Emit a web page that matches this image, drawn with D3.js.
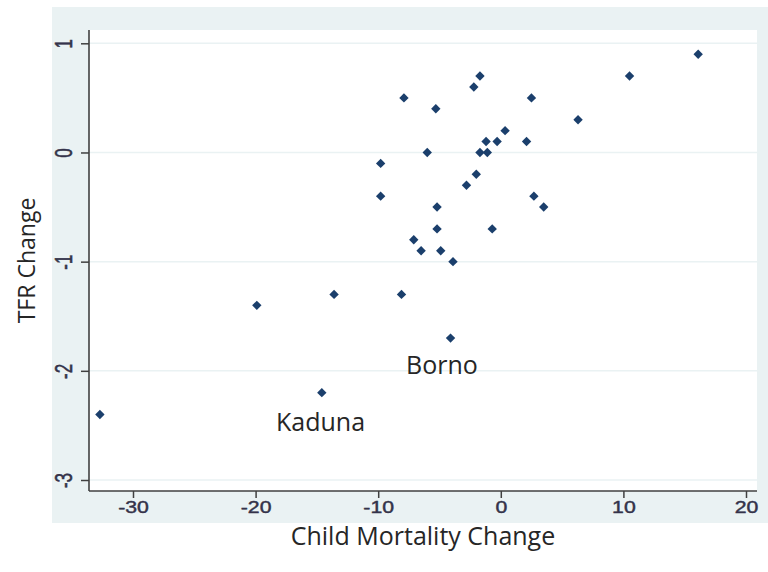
<!DOCTYPE html>
<html>
<head>
<meta charset="utf-8">
<script src="https://cdn.jsdelivr.net/npm/d3@7"></script>
<style>
  html, body { margin: 0; padding: 0; background: #fff; }
  svg { display: block; }
  .tick-label { font-family: "Liberation Sans", Arial, sans-serif; font-size: 16px; fill: #34334a; }
  .axis-title { font-family: "Open Sans", sans-serif; fill: #262626; }
  .point-label { font-family: "Open Sans", sans-serif; font-size: 25px; fill: #262626; }
</style>
</head>
<body>
<div id="chart"></div>
<script>
// Child mortality change (x) and TFR change (y), one entry per state
const childMortality = [
  16.1, 10.5, -1.7, -2.2, -7.9, -5.3, 2.5, 6.3, 0.35, -1.2, -0.3, 2.1,
  -1.7, -1.1, -6.0, -9.8, -2.0, -2.8, -9.8, 2.7, 3.5, -5.2, -5.2, -0.7,
  -7.1, -6.5, -4.9, -3.9, -19.9, -13.6, -8.1, -4.1, -14.6, -32.7
];
const tfrChange = [
  0.9, 0.7, 0.7, 0.6, 0.5, 0.4, 0.5, 0.3, 0.2, 0.1, 0.1, 0.1,
  0.0, 0.0, 0.0, -0.1, -0.2, -0.3, -0.4, -0.4, -0.5, -0.5, -0.7, -0.7,
  -0.8, -0.9, -0.9, -1.0, -1.4, -1.3, -1.3, -1.7, -2.2, -2.4
];

// Annotations (text placed in data space)
const labelNames = ['Borno', 'Kaduna'];
const labelX = [-4.8, -14.7];
const labelY = [-2.03, -2.55];

const xTicks = [-30, -20, -10, 0, 10, 20];
const yTicks = [1, 0, -1, -2, -3];

const W = 768, H = 572;
const plot = { left: 89, right: 757, top: 30, bottom: 491 };

const svg = d3.select('#chart').append('svg')
  .attr('width', W)
  .attr('height', H);

// Graph region background
svg.append('rect')
  .attr('x', 52).attr('y', 7)
  .attr('width', W - 52).attr('height', 523 - 7)
  .attr('fill', '#eaf2f3');

// Plot region
svg.append('rect')
  .attr('x', plot.left).attr('y', plot.top)
  .attr('width', plot.right - plot.left).attr('height', plot.bottom - plot.top)
  .attr('fill', '#ffffff');

const x = d3.scaleLinear().domain([-30, 20]).range([133, 746]);
const y = d3.scaleLinear().domain([-3, 1]).range([480, 43.3]);

// Grid lines
svg.append('g')
  .selectAll('line')
  .data(yTicks)
  .enter()
  .append('line')
  .attr('x1', plot.left).attr('x2', plot.right)
  .attr('y1', d => y(d)).attr('y2', d => y(d))
  .attr('stroke', '#eaf2f3')
  .attr('stroke-width', 1.5);

// X axis
const xAxis = svg.append('g')
  .attr('transform', `translate(0,${plot.bottom})`)
  .call(d3.axisBottom(x).tickValues(xTicks).tickSize(7).tickSizeOuter(0).tickFormat(d3.format('d')));
xAxis.select('.domain').remove();
xAxis.selectAll('.tick line').attr('stroke', '#404040').attr('stroke-width', 1.5);
xAxis.selectAll('.tick text')
  .attr('class', 'tick-label')
  .attr('y', 11)
  .attr('dy', '0.71em')
  .attr('transform', 'scale(1.33,1)')
  .style('stroke', '#34334a').style('stroke-width', 0.4)
  .text(d => d < 0 ? '-' + Math.abs(d) : d);

// Y axis
const yAxis = svg.append('g')
  .attr('transform', `translate(${plot.left},0)`)
  .call(d3.axisLeft(y).tickValues(yTicks).tickSize(8).tickSizeOuter(0));
yAxis.select('.domain').remove();
yAxis.selectAll('.tick line').attr('stroke', '#404040').attr('stroke-width', 1.5);
yAxis.selectAll('.tick text')
  .attr('class', 'tick-label')
  .attr('x', 0).attr('y', 0).attr('dy', 0)
  .attr('text-anchor', 'middle')
  .style('font-size', '17px')
  .style('stroke', '#34334a').style('stroke-width', 0.4)
  .attr('transform', 'translate(-17,0) scale(1.4,1) rotate(-90)')
  .text(d => d < 0 ? '-' + Math.abs(d) : d);

// Axis lines
svg.append('line')
  .attr('x1', plot.left).attr('x2', plot.left)
  .attr('y1', plot.top).attr('y2', plot.bottom)
  .attr('stroke', '#404040').attr('stroke-width', 1.6);
svg.append('line')
  .attr('x1', plot.left).attr('x2', plot.right)
  .attr('y1', plot.bottom).attr('y2', plot.bottom)
  .attr('stroke', '#404040').attr('stroke-width', 1.6);

// Points (diamonds)
const diamond = d3.symbol().type(d3.symbolSquare).size(44);
svg.append('g')
  .selectAll('path')
  .data(childMortality.map((v, i) => ({ x: v, y: tfrChange[i] })))
  .enter()
  .append('path')
  .attr('d', diamond)
  .attr('transform', d => `translate(${x(d.x)},${y(d.y)}) rotate(45)`)
  .attr('fill', '#1b3f6c');

// Point labels
svg.append('g')
  .selectAll('text')
  .data(labelNames)
  .enter()
  .append('text')
  .attr('class', 'point-label')
  .attr('x', (d, i) => x(labelX[i]))
  .attr('y', (d, i) => y(labelY[i]))
  .attr('text-anchor', 'middle')
  .text(d => d);

// Axis titles
svg.append('text')
  .attr('class', 'axis-title')
  .attr('x', (plot.left + plot.right) / 2)
  .attr('y', 545)
  .attr('text-anchor', 'middle')
  .style('font-size', '25px')
  .text('Child Mortality Change');

svg.append('text')
  .attr('class', 'axis-title')
  .attr('transform', `translate(35,${(plot.top + plot.bottom) / 2}) rotate(-90)`)
  .attr('text-anchor', 'middle')
  .style('font-size', '23px')
  .text('TFR Change');
</script>
</body>
</html>
